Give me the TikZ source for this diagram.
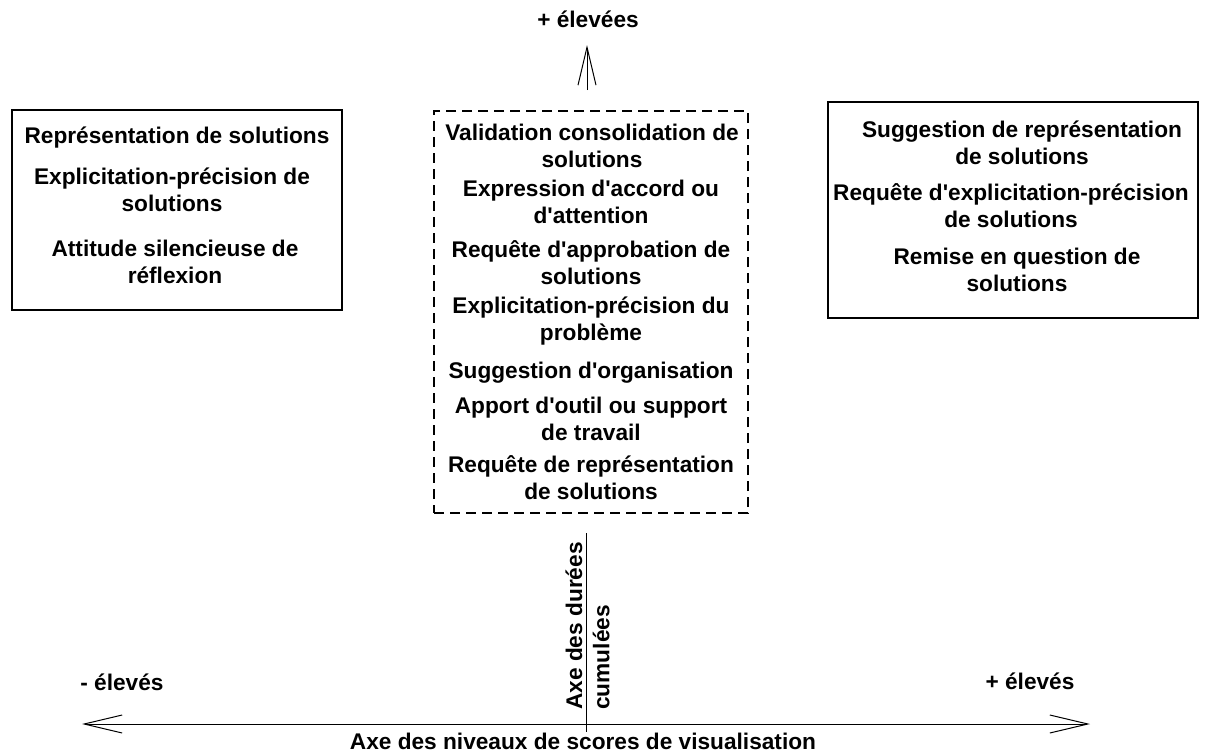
\documentclass[tikz,border=0pt]{standalone}
\usepackage{fontspec}
\newfontfamily\lsans{Liberation Sans}
\usetikzlibrary{arrows.meta}
\newcommand\mylines[1]{\begin{tabular}[t]{@{}c@{}}#1\end{tabular}}
\newcommand\mylinesl[1]{\begin{tabular}[t]{@{}l@{}}#1\end{tabular}}
\begin{document}
\begin{tikzpicture}[x=0.75pt,y=-0.75pt,
  lbl/.style={font=\lsans\bfseries\fontsize{17}{20.6}\selectfont, inner sep=0pt, anchor=base},
  solidbox/.style={draw, line width=0.8pt, inner sep=0pt},
  dashbox/.style={draw, line width=0.8pt, inner sep=0pt, dash pattern=on 7.5pt off 4.5pt},
  axis/.style={line width=0.75pt},
  barb/.tip={Straight Barb[length=28.5pt,width=13.5pt]}]
\useasboundingbox (0,0) rectangle (1206,753);

% boxes
\node[solidbox, minimum width=247.5pt, minimum height=150pt] (leftbox) at (177,210) {};
\node[solidbox, minimum width=277.5pt, minimum height=162pt] (rightbox) at (1013,210) {};
\node[dashbox, minimum width=235.5pt, minimum height=301.5pt] (midbox) at (591,312) {};

% left box items
\node[lbl] (l1) at (177,143) {\mylines{Représentation de solutions}};
\node[lbl] (l2) at (172,184) {\mylines{Explicitation-précision de\\solutions}};
\node[lbl] (l3) at (175,256) {\mylines{Attitude silencieuse de\\réflexion}};

% middle box items
\node[lbl] (m1) at (592,140) {\mylines{Validation consolidation de\\solutions}};
\node[lbl] (m2) at (591,196) {\mylines{Expression d'accord ou\\d'attention}};
\node[lbl] (m3) at (591,257) {\mylines{Requête d'approbation de\\solutions}};
\node[lbl] (m4) at (591,313) {\mylines{Explicitation-précision du\\problème}};
\node[lbl] (m5) at (591,378) {\mylines{Suggestion d'organisation}};
\node[lbl] (m6) at (591,413) {\mylines{Apport d'outil ou support\\de travail}};
\node[lbl] (m7) at (591,472) {\mylines{Requête de représentation\\de solutions}};

% right box items
\node[lbl] (r1) at (1022,137) {\mylines{Suggestion de représentation\\de solutions}};
\node[lbl] (r2) at (1011,200) {\mylines{Requête d'explicitation-précision\\de solutions}};
\node[lbl] (r3) at (1017,264) {\mylines{Remise en question de\\solutions}};

% axis labels
\node[lbl] (top) at (588,27) {+ élevées};
\node[lbl] (lowl) at (122,690) {- élevés};
\node[lbl] (highl) at (1030,689) {+ élevés};
\node[lbl] (haxis) at (583,749) {Axe des niveaux de scores de visualisation};
\node[lbl, rotate=90, anchor=base west] (vaxis) at (582,710) {\mylinesl{Axe des durées\\cumulées}};

% axes
\coordinate (upS) at (587,90);
\coordinate (upT) at (587,45);
\coordinate (hL) at (82,724);
\coordinate (hR) at (1090,724);
\coordinate (vT) at (586,533);
\coordinate (vB) at (586,732);
\draw[axis, -barb] (upS) -- (upT);
\draw[axis, barb-barb] (hL) -- (hR);
\draw[axis] (vT) -- (vB);
\end{tikzpicture}
\end{document}
